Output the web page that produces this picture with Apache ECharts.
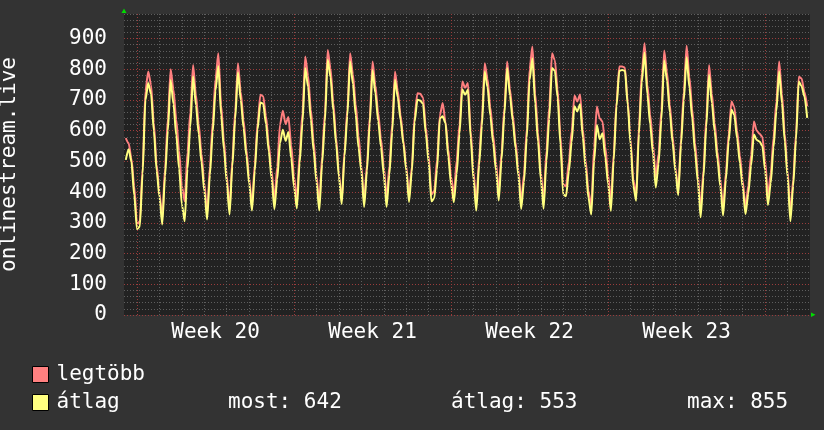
<!DOCTYPE html>
<html>
<head>
<meta charset="utf-8">
<script src="https://cdn.jsdelivr.net/npm/echarts@6/dist/echarts.min.js"></script>
<style>
  html, body { margin: 0; padding: 0; background: #333; }
  #chart { width: 824px; height: 430px; }
</style>
</head>
<body>
<div id="chart"></div>
<script>
// samples every 3 hours, x is days since start of week 20
const dayStart = -0.5;
const dayStep = 0.125;

// legtöbb (max), one row per day
const maxVals = [
  576, 560, 510, 420,
  295, 305, 480, 730, 793, 750, 625, 490,
  400, 315, 477, 640, 800, 734, 636, 535,
  420, 370, 530, 660, 814, 718, 622, 525,
  430, 332, 483, 628, 769, 852, 684, 567,
  455, 343, 505, 663, 820, 727, 634, 540,
  447, 356, 490, 626, 717, 712, 648, 555,
  470, 372, 483, 620, 665, 622, 645, 553,
  450, 375, 526, 658, 842, 779, 669, 563,
  456, 362, 516, 657, 863, 804, 691, 577,
  463, 372, 534, 669, 852, 784, 686, 584,
  487, 368, 489, 646, 825, 749, 659, 574,
  484, 380, 484, 622, 793, 730, 651, 568,
  488, 385, 483, 649, 722, 720, 708, 611,
  519, 392, 404, 505, 650, 690, 630, 540,
  450, 392, 503, 620, 760, 740, 755, 600,
  466, 362, 512, 641, 820, 769, 676, 587,
  499, 400, 530, 675, 825, 736, 652, 563,
  475, 368, 458, 607, 800, 874, 721, 594,
  466, 368, 535, 677, 852, 830, 735, 585,
  425, 419, 498, 598, 715, 695, 718, 603,
  502, 404, 352, 545, 679, 640, 630, 548,
  458, 366, 525, 694, 809, 809, 805, 696,
  571, 440, 390, 615, 788, 885, 750, 653,
  557, 450, 525, 667, 861, 791, 685, 583,
  481, 400, 575, 728, 877, 775, 670, 560,
  460, 340, 472, 640, 814, 720, 626, 532,
  443, 345, 463, 589, 695, 677, 600, 519,
  438, 350, 422, 521, 630, 600, 590, 580,
  502, 390, 461, 578, 695, 825, 720, 590,
  470, 330, 440, 590, 776, 770, 727, 679
];

// átlag (average)
const avgVals = [
  505, 540, 500, 390,
  280, 288, 460, 700, 755, 720, 600, 470,
  385, 295, 452, 600, 765, 687, 585, 477,
  360, 305, 475, 612, 777, 684, 590, 497,
  404, 311, 456, 596, 731, 811, 651, 540,
  433, 327, 484, 637, 790, 700, 609, 518,
  428, 340, 470, 605, 692, 688, 622, 532,
  444, 345, 442, 560, 603, 567, 596, 510,
  417, 347, 495, 624, 804, 743, 636, 534,
  433, 340, 491, 629, 831, 775, 666, 557,
  451, 361, 518, 648, 825, 753, 651, 544,
  468, 352, 470, 623, 798, 722, 632, 547,
  457, 352, 457, 595, 766, 708, 634, 556,
  472, 368, 466, 629, 701, 698, 687, 590,
  497, 370, 380, 474, 640, 647, 625, 515,
  425, 367, 460, 590, 734, 717, 733, 577,
  441, 340, 488, 616, 793, 742, 649, 560,
  471, 373, 505, 652, 804, 715, 632, 543,
  454, 345, 433, 577, 765, 836, 688, 565,
  442, 346, 500, 638, 804, 795, 708, 556,
  392, 387, 467, 563, 680, 663, 686, 577,
  477, 381, 327, 500, 619, 572, 592, 513,
  427, 339, 504, 680, 795, 798, 795, 684,
  557, 420, 372, 590, 757, 855, 718, 621,
  525, 415, 492, 635, 829, 763, 661, 561,
  467, 390, 554, 699, 839, 740, 640, 530,
  435, 318, 448, 612, 782, 690, 598, 506,
  419, 324, 440, 564, 668, 651, 575, 495,
  415, 328, 395, 487, 588, 570, 565, 550,
  471, 358, 429, 546, 663, 793, 690, 565,
  450, 305, 420, 570, 760, 745, 712, 642
];

const weekMid = [3.5, 10.5, 17.5, 24.5];
const weekNames = ['Week 20', 'Week 21', 'Week 22', 'Week 23'];
const weekLines = [0, 7, 14, 21, 28];
const dayLines = [1, 2, 3, 4, 5, 6, 8, 9, 10, 11, 12, 13, 15, 16, 17, 18, 19, 20,
  22, 23, 24, 25, 26, 27, 29];
const stats = [['most', 642], ['átlag', 553], ['max', 855]];

const mono = '"DejaVu Sans Mono", monospace';
const toPairs = vals => vals.map((v, i) => [dayStart + i * dayStep, v]);

const chart = echarts.init(document.getElementById('chart'));

const gridMarks = dayLines.map(d => ({
  xAxis: d,
  lineStyle: { color: '#5e5e5e', type: [1, 2], width: 1 }
})).concat(weekLines.map(d => ({
  xAxis: d,
  lineStyle: { color: '#9a3c3c', type: [1, 2], width: 1 }
})));

chart.setOption({
  backgroundColor: '#333',
  animation: false,
  grid: {
    left: 124,
    right: 14,
    top: 14,
    bottom: 115,
    outerBoundsMode: 'none',
    show: true,
    backgroundColor: '#222',
    borderWidth: 0
  },
  legend: {
    data: ['legtöbb', 'átlag'],
    orient: 'vertical',
    left: 32,
    top: 364,
    padding: 0,
    itemWidth: 16,
    itemHeight: 16,
    itemGap: 7,
    icon: 'rect',
    selectedMode: false,
    itemStyle: { borderColor: '#000', borderWidth: 1 },
    textStyle: {
      color: '#fff',
      fontSize: 21,
      fontFamily: mono,
      padding: [0, 0, 0, 3]
    }
  },
  xAxis: {
    type: 'value',
    min: -0.58,
    max: 30.0,
    axisLine: { show: false },
    axisTick: { show: false },
    splitLine: { show: false },
    axisLabel: {
      customValues: weekMid,
      formatter: v => weekNames[weekMid.indexOf(v)] || '',
      color: '#fff',
      fontSize: 21,
      fontFamily: mono,
      margin: 7
    }
  },
  yAxis: [{
    type: 'value',
    min: 0,
    max: 980,
    interval: 100,
    z: 1,
    name: 'onlinestream.live',
    nameLocation: 'middle',
    nameRotate: 90,
    nameGap: 104,
    nameTextStyle: { color: '#fff', fontSize: 21, fontFamily: mono },
    axisLine: { show: false },
    axisTick: { show: false },
    axisLabel: {
      color: '#fff',
      fontSize: 21,
      fontFamily: mono,
      margin: 17,
      showMaxLabel: false
    },
    splitLine: {
      show: true,
      showMaxLine: false,
      lineStyle: { color: '#9a3c3c', type: [1, 2], width: 1 }
    }
  }, {
    type: 'value',
    min: 0,
    max: 980,
    interval: 20,
    z: 0,
    axisLine: { show: false },
    axisTick: { show: false },
    axisLabel: { show: false },
    splitLine: {
      show: true,
      lineStyle: { color: '#5e5e5e', type: [1, 2], width: 1 }
    }
  }],
  series: [{
    type: 'line',
    name: 'grid',
    data: [],
    z: 1,
    silent: true,
    markLine: {
      silent: true,
      symbol: 'none',
      label: { show: false },
      emphasis: { disabled: true },
      data: gridMarks
    }
  }, {
    type: 'line',
    name: 'legtöbb',
    data: toPairs(maxVals),
    symbol: 'none',
    smooth: 0.25,
    smoothMonotone: 'x',
    z: 2,
    lineStyle: { color: '#ff7f7f', width: 2 },
    itemStyle: { color: '#ff8080' }
  }, {
    type: 'line',
    name: 'átlag',
    data: toPairs(avgVals),
    symbol: 'none',
    smooth: 0.25,
    smoothMonotone: 'x',
    z: 3,
    lineStyle: { color: '#ffff80', width: 2 },
    itemStyle: { color: '#ffff80' }
  }],
  graphic: [
    { type: 'text', x: 228, y: 403, style: { text: stats[0][0] + ': ' + stats[0][1], fill: '#fff', font: '21px ' + mono, verticalAlign: 'middle' } },
    { type: 'text', x: 451, y: 403, style: { text: stats[1][0] + ': ' + stats[1][1], fill: '#fff', font: '21px ' + mono, verticalAlign: 'middle' } },
    { type: 'text', x: 687, y: 403, style: { text: stats[2][0] + ': ' + stats[2][1], fill: '#fff', font: '21px ' + mono, verticalAlign: 'middle' } },
    // axis arrows
    { type: 'polygon', shape: { points: [[121.5, 13], [126.5, 13], [124, 8.5]] }, style: { fill: '#00dd00' } },
    { type: 'polygon', shape: { points: [[811, 312.5], [811, 317], [815.5, 314.7]] }, style: { fill: '#00dd00' } }
  ]
});
</script>
</body>
</html>
